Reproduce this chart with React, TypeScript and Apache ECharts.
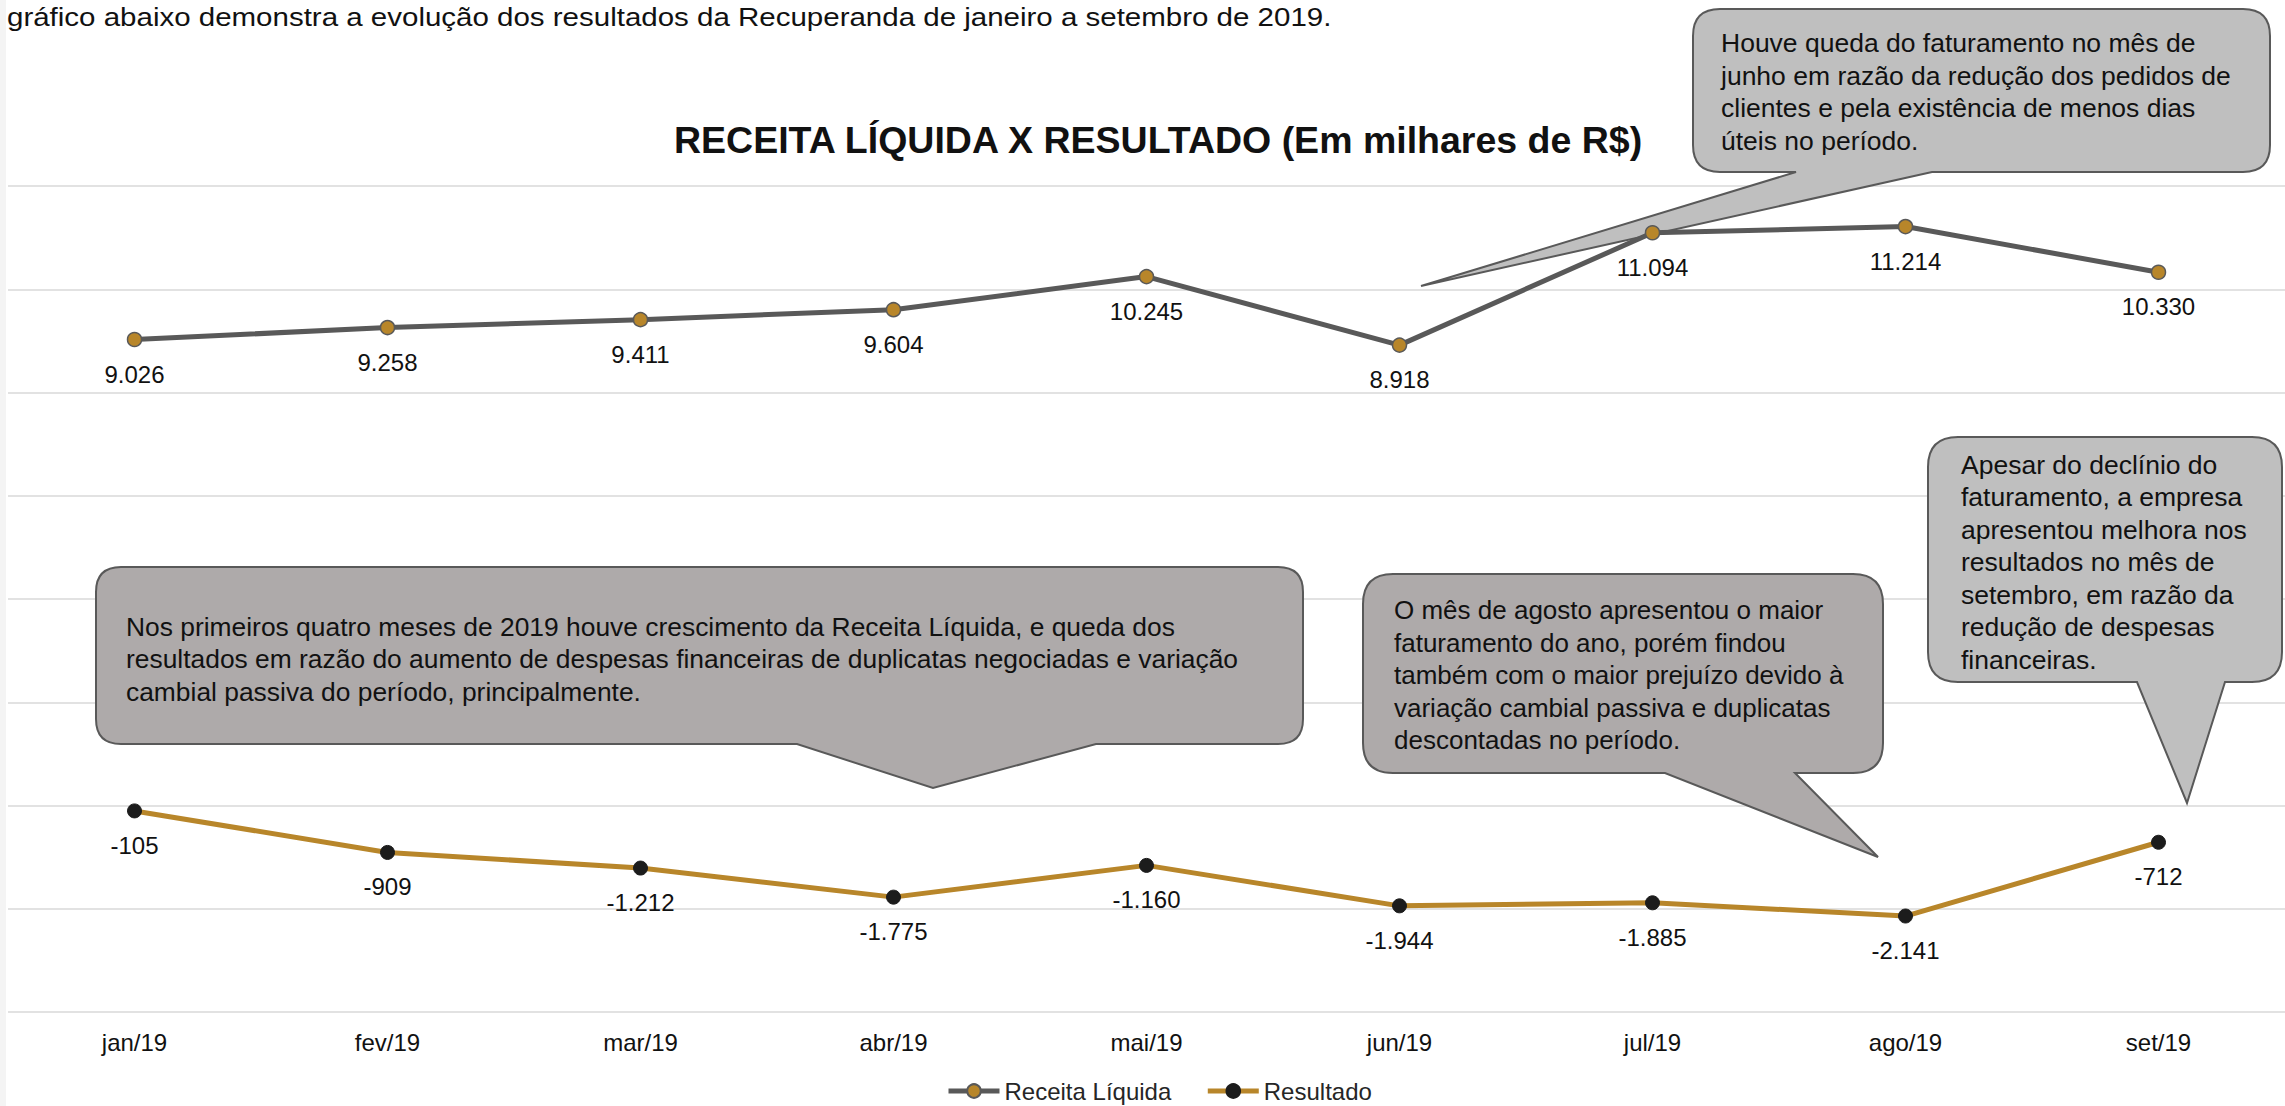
import React, { useEffect, useRef } from 'react';
import * as echarts from 'echarts';

// ---------- data ----------
const months = ['jan/19', 'fev/19', 'mar/19', 'abr/19', 'mai/19', 'jun/19', 'jul/19', 'ago/19', 'set/19'];
const receitaLiquida = [9026, 9258, 9411, 9604, 10245, 8918, 11094, 11214, 10330];
const resultado = [-105, -909, -1212, -1775, -1160, -1944, -1885, -2141, -712];
const seriesNames = ['Receita Líquida', 'Resultado'];
const yMin = -4000;
const yMax = 12000;
const yInterval = 2000;

const introText = 'gráfico abaixo demonstra a evolução dos resultados da Recuperanda de janeiro a setembro de 2019.';
const chartTitle = 'RECEITA LÍQUIDA X RESULTADO (Em milhares de R$)';
const note1Lines = [
  'Houve queda do faturamento no mês de',
  'junho em razão da redução dos pedidos de',
  'clientes e pela existência de menos dias',
  'úteis no período.',
];
const note2Lines = [
  'Nos primeiros quatro meses de 2019 houve crescimento da Receita Líquida, e queda dos',
  'resultados em razão do aumento de despesas financeiras de duplicatas negociadas e variação',
  'cambial passiva do período, principalmente.',
];
const note3Lines = [
  'O mês de agosto apresentou o maior',
  'faturamento do ano, porém findou',
  'também com o maior prejuízo devido à',
  'variação cambial passiva e duplicatas',
  'descontadas no período.',
];
const note4Lines = [
  'Apesar do declínio do',
  'faturamento, a empresa',
  'apresentou melhora nos',
  'resultados no mês de',
  'setembro, em razão da',
  'redução de despesas',
  'financeiras.',
];

// ---------- styles ----------
const FONT = '"Liberation Sans", Arial, Helvetica, sans-serif';
const GOLD = '#B8862A';
const DARK = '#595959';
const TEXT = '#111111';

type Callout = {
  name: string;
  x0: number; y0: number; x1: number; y1: number; r: number;
  b0: number; b1: number; tx: number; ty: number;
  fill: string;
  lines: string[];
  textX: number; textY: number; fontSize: number; lineHeight: number;
};

const callouts: Callout[] = [
  { name: 'callout1', x0: 1693, y0: 9, x1: 2270, y1: 172, r: 27, b0: 1796, b1: 1932, tx: 1421, ty: 286,
    fill: '#BFBFBF', lines: note1Lines, textX: 1721, textY: 92, fontSize: 26.5, lineHeight: 32.5 },
  { name: 'callout2', x0: 96, y0: 567, x1: 1303, y1: 744, r: 25, b0: 797, b1: 1096, tx: 933, ty: 788,
    fill: '#AEAAAA', lines: note2Lines, textX: 126, textY: 659, fontSize: 26.4, lineHeight: 32.5 },
  { name: 'callout3', x0: 1363, y0: 574, x1: 1883, y1: 773, r: 30, b0: 1665, b1: 1795, tx: 1878, ty: 857,
    fill: '#AEAAAA', lines: note3Lines, textX: 1394, textY: 675, fontSize: 26, lineHeight: 32.5 },
  { name: 'callout4', x0: 1928, y0: 437, x1: 2282, y1: 682, r: 30, b0: 2137, b1: 2225, tx: 2187, ty: 803,
    fill: '#BFBFBF', lines: note4Lines, textX: 1961, textY: 562, fontSize: 26.5, lineHeight: 32.5 },
];

function calloutPath(c: Callout): string {
  const { x0, y0, x1, y1, r, b0, b1, tx, ty } = c;
  return [
    `M ${x0 + r} ${y0}`,
    `L ${x1 - r} ${y0}`,
    `Q ${x1} ${y0} ${x1} ${y0 + r}`,
    `L ${x1} ${y1 - r}`,
    `Q ${x1} ${y1} ${x1 - r} ${y1}`,
    `L ${b1} ${y1}`,
    `L ${tx} ${ty}`,
    `L ${b0} ${y1}`,
    `L ${x0 + r} ${y1}`,
    `Q ${x0} ${y1} ${x0} ${y1 - r}`,
    `L ${x0} ${y0 + r}`,
    `Q ${x0} ${y0} ${x0 + r} ${y0}`,
    'Z',
  ].join(' ');
}

let registered = false;
function registerShapes() {
  if (registered) return;
  registered = true;
  callouts.forEach((c) => {
    echarts.graphic.registerShape(c.name, echarts.graphic.extendPath(calloutPath(c), {}) as any);
  });
}

function fmt(v: number): string {
  const s = Math.abs(v).toString().replace(/\B(?=(\d{3})+(?!\d))/g, '.');
  return (v < 0 ? '-' : '') + s;
}

export default function App() {
  const ref = useRef<HTMLDivElement>(null);

  useEffect(() => {
    if (!ref.current) return;
    registerShapes();
    const chart = echarts.init(ref.current, undefined, { renderer: 'svg' });

    const graphicElements: any[] = [
      { type: 'rect', z: 0, silent: true, shape: { x: 0, y: 0, width: 6, height: 1106 }, style: { fill: '#F4F4F4' } },
      {
        type: 'text', z: 5, x: 7, y: 17, scaleX: 1.18, scaleY: 1,
        style: { text: introText, fontSize: 25, fontFamily: FONT, fill: TEXT, align: 'left', verticalAlign: 'middle' },
      },
      {
        type: 'text', z: 5, x: 674, y: 140,
        style: { text: chartTitle, fontSize: 37.5, fontWeight: 'bold', fontFamily: FONT, fill: TEXT, align: 'left', verticalAlign: 'middle' },
      },
    ];
    callouts.forEach((c) => {
      graphicElements.push({
        type: c.name, z: 1, x: 0, y: 0,
        style: { fill: c.fill, stroke: DARK, lineWidth: 2 },
      });
      graphicElements.push({
        type: 'text', z: 1, x: c.textX, y: c.textY,
        style: {
          text: c.lines.join('\n'), fontSize: c.fontSize, fontFamily: FONT, fill: TEXT,
          lineHeight: c.lineHeight, align: 'left', verticalAlign: 'middle',
        },
      });
    });

    const labelBase = {
      show: true, position: 'bottom', distance: 15, fontSize: 24, fontFamily: FONT, color: TEXT,
      formatter: (p: any) => fmt(p.value),
    };

    chart.setOption({
      animation: false,
      backgroundColor: '#ffffff',
      textStyle: { fontFamily: FONT },
      grid: { left: 8, top: 186, width: 2289, height: 826, containLabel: false },
      legend: {
        left: 941, top: 1074, itemWidth: 51, itemHeight: 17, itemGap: 34,
        data: seriesNames,
        lineStyle: { width: 5 },
        textStyle: { fontSize: 24, fontFamily: FONT, color: '#262626' },
      },
      xAxis: {
        type: 'category', data: months, boundaryGap: true,
        axisLine: { show: false }, axisTick: { show: false },
        axisLabel: { margin: 18, fontSize: 24, fontFamily: FONT, color: TEXT },
        splitLine: { show: false },
      },
      yAxis: {
        type: 'value', min: yMin, max: yMax, interval: yInterval,
        axisLabel: { show: false }, axisLine: { show: false }, axisTick: { show: false },
        splitLine: { show: true, lineStyle: { color: '#D9D9D9', width: 1.5 } },
      },
      series: [
        {
          name: seriesNames[0], type: 'line', data: receitaLiquida, z: 3,
          symbol: 'circle', symbolSize: 14,
          lineStyle: { color: DARK, width: 5 },
          itemStyle: { color: GOLD, borderColor: DARK, borderWidth: 1.5 },
          label: labelBase,
        },
        {
          name: seriesNames[1], type: 'line', data: resultado, z: 3,
          symbol: 'circle', symbolSize: 14,
          lineStyle: { color: GOLD, width: 5 },
          itemStyle: { color: '#1C1C1C', borderColor: '#1C1C1C', borderWidth: 1 },
          label: labelBase,
        },
      ],
      graphic: { elements: graphicElements },
    });

    return () => chart.dispose();
  }, []);

  return (
    <div
      ref={ref}
      style={{ position: 'fixed', left: 0, top: 0, width: 2285, height: 1106, background: '#ffffff' }}
    />
  );
}
